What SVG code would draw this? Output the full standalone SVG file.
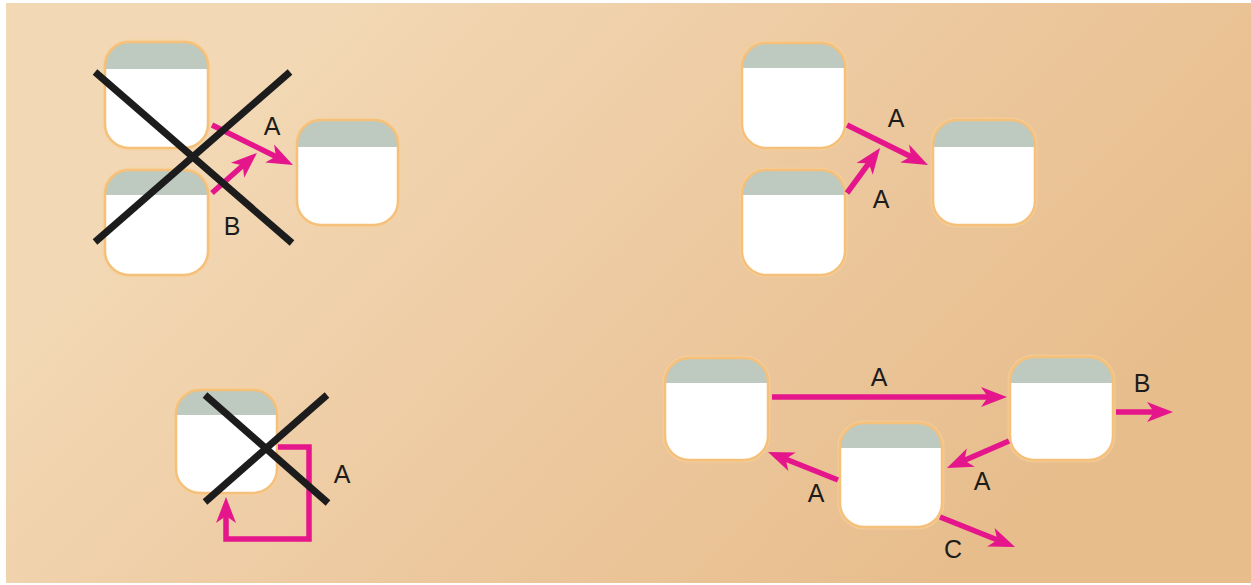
<svg xmlns="http://www.w3.org/2000/svg" width="1251" height="585" viewBox="0 0 1251 585">
<defs>
<linearGradient id="bg" gradientUnits="userSpaceOnUse" x1="350" y1="0" x2="950" y2="585">
<stop offset="0" stop-color="#f2d8b4"/>
<stop offset="0.5" stop-color="#edc9a0"/>
<stop offset="1" stop-color="#e7bd8c"/>
</linearGradient>
<marker id="ah" markerUnits="userSpaceOnUse" markerWidth="28" markerHeight="24" refX="18" refY="11" orient="auto" overflow="visible">
<path d="M0,1 L26,11 L0,21 L7,11 Z" fill="#e5168b"/>
</marker>
<style>
.body{fill:#ffffff;}
.band{fill:#bec9bf;}
.edge{fill:none;stroke:#f5c07a;stroke-width:2.5;}
.glow{fill:none;stroke:#f8d29c;stroke-width:5;opacity:0.6;}
.arr{fill:none;stroke:#e5168b;stroke-width:5.5;marker-end:url(#ah);}
.cross{stroke:#1c1c1c;stroke-width:7;}
.lbl{font-family:"Liberation Sans",Arial,sans-serif;font-size:25px;fill:#1c1c1c;text-anchor:middle;}
</style>
</defs>
<rect x="0" y="0" width="1251" height="585" fill="#ffffff"/>
<rect x="6" y="3" width="1245" height="580" fill="url(#bg)"/>

<g id="node1">
<rect class="glow" x="105" y="42" width="103" height="106" rx="24"/>
<rect class="body" x="105" y="42" width="103" height="106" rx="24"/>
<path class="band" d="M105,69 V66 A24,24 0 0 1 129,42 H184 A24,24 0 0 1 208,66 V69 Z"/>
<rect class="edge" x="105" y="42" width="103" height="106" rx="24"/>
</g>
<g id="node2">
<rect class="glow" x="105" y="170" width="103" height="105" rx="24"/>
<rect class="body" x="105" y="170" width="103" height="105" rx="24"/>
<path class="band" d="M105,195 V194 A24,24 0 0 1 129,170 H184 A24,24 0 0 1 208,194 V195 Z"/>
<rect class="edge" x="105" y="170" width="103" height="105" rx="24"/>
</g>
<g id="node3">
<rect class="glow" x="297" y="120" width="101" height="105" rx="24"/>
<rect class="body" x="297" y="120" width="101" height="105" rx="24"/>
<path class="band" d="M297,147 V144 A24,24 0 0 1 321,120 H374 A24,24 0 0 1 398,144 V147 Z"/>
<rect class="edge" x="297" y="120" width="101" height="105" rx="24"/>
</g>
<g id="node4">
<rect class="glow" x="742" y="43" width="103" height="105" rx="24"/>
<rect class="body" x="742" y="43" width="103" height="105" rx="24"/>
<path class="band" d="M742,68 V67 A24,24 0 0 1 766,43 H821 A24,24 0 0 1 845,67 V68 Z"/>
<rect class="edge" x="742" y="43" width="103" height="105" rx="24"/>
</g>
<g id="node5">
<rect class="glow" x="742" y="170" width="103" height="105" rx="24"/>
<rect class="body" x="742" y="170" width="103" height="105" rx="24"/>
<path class="band" d="M742,195 V194 A24,24 0 0 1 766,170 H821 A24,24 0 0 1 845,194 V195 Z"/>
<rect class="edge" x="742" y="170" width="103" height="105" rx="24"/>
</g>
<g id="node6">
<rect class="glow" x="933" y="120" width="102" height="105" rx="24"/>
<rect class="body" x="933" y="120" width="102" height="105" rx="24"/>
<path class="band" d="M933,147 V144 A24,24 0 0 1 957,120 H1011 A24,24 0 0 1 1035,144 V147 Z"/>
<rect class="edge" x="933" y="120" width="102" height="105" rx="24"/>
</g>
<g id="node7">
<rect class="glow" x="176" y="390" width="101" height="103" rx="24"/>
<rect class="body" x="176" y="390" width="101" height="103" rx="24"/>
<path class="band" d="M176,415 V414 A24,24 0 0 1 200,390 H253 A24,24 0 0 1 277,414 V415 Z"/>
<rect class="edge" x="176" y="390" width="101" height="103" rx="24"/>
</g>
<g id="node8">
<rect class="glow" x="665" y="358" width="103" height="102" rx="24"/>
<rect class="body" x="665" y="358" width="103" height="102" rx="24"/>
<path class="band" d="M665,383 V382 A24,24 0 0 1 689,358 H744 A24,24 0 0 1 768,382 V383 Z"/>
<rect class="edge" x="665" y="358" width="103" height="102" rx="24"/>
</g>
<g id="node9">
<rect class="glow" x="1010" y="357" width="103" height="103" rx="24"/>
<rect class="body" x="1010" y="357" width="103" height="103" rx="24"/>
<path class="band" d="M1010,383 V381 A24,24 0 0 1 1034,357 H1089 A24,24 0 0 1 1113,381 V383 Z"/>
<rect class="edge" x="1010" y="357" width="103" height="103" rx="24"/>
</g>
<g id="node10">
<rect class="glow" x="840" y="423" width="102" height="104" rx="24"/>
<rect class="body" x="840" y="423" width="102" height="104" rx="24"/>
<path class="band" d="M840,448 V447 A24,24 0 0 1 864,423 H918 A24,24 0 0 1 942,447 V448 Z"/>
<rect class="edge" x="840" y="423" width="102" height="104" rx="24"/>
</g>

<g id="connectors">
<line class="arr" x1="212" y1="125" x2="285.8" y2="161.5"/>
<line class="arr" x1="212" y1="193" x2="251" y2="158.3"/>
<line class="arr" x1="847" y1="125" x2="920.8" y2="161.5"/>
<line class="arr" x1="847" y1="193" x2="875.3" y2="154.4"/>
<path class="arr" d="M278,447 H309 V539 H226 V505"/>
<line class="arr" x1="772" y1="397" x2="999" y2="397"/>
<line class="arr" x1="1116" y1="412" x2="1165" y2="412"/>
<line class="arr" x1="1009" y1="441" x2="954.3" y2="464.8"/>
<line class="arr" x1="838" y1="480" x2="775.4" y2="455"/>
<line class="arr" x1="940" y1="517" x2="1007.6" y2="544"/>
</g>

<g id="crosses">
<line class="cross" x1="95" y1="72" x2="292" y2="243"/>
<line class="cross" x1="95" y1="242" x2="290" y2="72"/>
<line class="cross" x1="205" y1="395" x2="328" y2="503"/>
<line class="cross" x1="205" y1="502" x2="327" y2="395"/>
</g>

<g id="labels">
<text class="lbl" x="272" y="135">A</text>
<text class="lbl" x="232" y="235">B</text>
<text class="lbl" x="896" y="127">A</text>
<text class="lbl" x="881" y="208">A</text>
<text class="lbl" x="342" y="483">A</text>
<text class="lbl" x="879" y="386">A</text>
<text class="lbl" x="1142" y="392">B</text>
<text class="lbl" x="982" y="490">A</text>
<text class="lbl" x="816" y="502">A</text>
<text class="lbl" x="953" y="558">C</text>
</g>
</svg>
